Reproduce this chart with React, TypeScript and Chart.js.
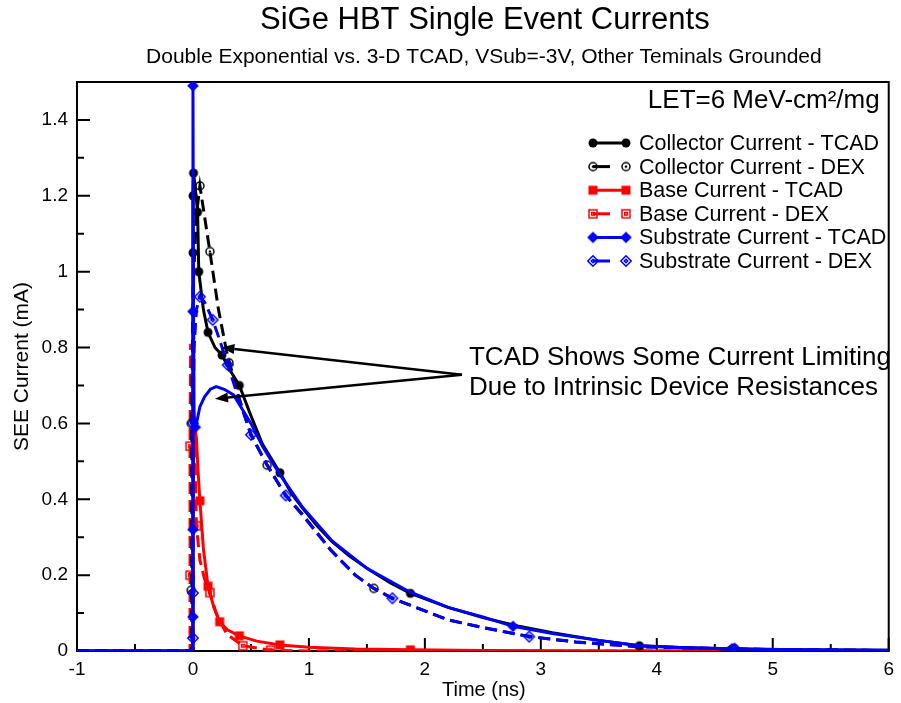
import React, { useEffect, useRef } from "react";
import { Chart, registerables } from "chart.js";

Chart.register(...registerables);

type Pt = [number, number];

const FONT = '"Liberation Sans", Arial, Helvetica, sans-serif';

const chartTitle = "SiGe HBT Single Event Currents";
const chartSubtitle = "Double Exponential vs. 3-D TCAD, VSub=-3V, Other Teminals Grounded";
const xAxisTitle = "Time (ns)";
const yAxisTitle = "SEE Current (mA)";
const letLabel = "LET=6 MeV-cm²/mg";
const noteLines = ["TCAD Shows Some Current Limiting", "Due to Intrinsic Device Resistances"];

const xTickValues = [-1, 0, 1, 2, 3, 4, 5, 6];
const yTickValues = [0, 0.2, 0.4, 0.6, 0.8, 1, 1.2, 1.4];

const seriesLabels = [
  "Collector Current - TCAD",
  "Collector Current - DEX",
  "Base Current - TCAD",
  "Base Current - DEX",
  "Substrate Current - TCAD",
  "Substrate Current - DEX",
];

// ---- Collector current ----
const collectorTcadCurve: Pt[] = [
  [-1, 0], [0, 0], [0, 0.6], [0, 1.05], [0, 1.2], [0.005, 1.26], [0.02, 1.22], [0.04, 1.157],
  [0.05, 1.0], [0.09, 0.9], [0.13, 0.84], [0.19, 0.8], [0.25, 0.78], [0.32, 0.74], [0.4, 0.7],
  [0.5, 0.62], [0.6, 0.545], [0.75, 0.47], [0.85, 0.415], [0.95, 0.375], [1.07, 0.33],
  [1.2, 0.288], [1.35, 0.25], [1.52, 0.214], [1.7, 0.18], [1.875, 0.152], [2.2, 0.115],
  [2.5, 0.088], [2.8, 0.066], [3.1, 0.048], [3.5, 0.028], [3.85, 0.014], [4.2, 0.009],
  [4.65, 0.005], [5.2, 0.003], [6, 0.002],
];
const collectorTcadMarks: Pt[] = [
  [0, 1.05], [0, 1.2], [0.005, 1.26], [0.04, 1.157], [0.05, 1.0], [0.13, 0.84], [0.25, 0.78],
  [0.4, 0.7], [0.75, 0.47], [1.875, 0.152], [3.85, 0.014], [4.65, 0.005],
];
const collectorDexCurve: Pt[] = [
  [-1, 0], [-0.01, 0], [-0.01, 0.16], [-0.01, 0.6], [0.0, 0.95], [0.03, 1.15], [0.06, 1.226],
  [0.146, 1.053], [0.22, 0.9], [0.29, 0.79], [0.35, 0.72], [0.4, 0.665], [0.5, 0.57],
  [0.64, 0.49], [0.8, 0.41], [0.94, 0.362], [1.19, 0.266], [1.4, 0.2], [1.56, 0.165],
  [1.72, 0.139], [2.2, 0.082], [2.5, 0.062], [2.9, 0.038], [3.3, 0.024], [3.83, 0.012],
  [4.67, 0.005], [6, 0.001],
];
const collectorDexMarks: Pt[] = [
  [-0.015, 0.16], [-0.015, 0.6], [0.06, 1.226], [0.146, 1.053], [0.31, 0.76], [0.64, 0.49],
  [1.56, 0.165], [4.67, 0.006],
];

// ---- Base current ----
const baseTcadCurve: Pt[] = [
  [-1, 0], [0, 0], [0, 0.3], [0.01, 0.62], [0.03, 0.56], [0.045, 0.47], [0.06, 0.396],
  [0.09, 0.27], [0.13, 0.171], [0.18, 0.115], [0.23, 0.077], [0.3, 0.055], [0.4, 0.04],
  [0.55, 0.026], [0.75, 0.016], [1.0, 0.01], [1.4, 0.005], [1.875, 0.003], [2.5, 0.001],
  [3.85, 0], [6, 0],
];
const baseTcadMarks: Pt[] = [
  [0.06, 0.396], [0.13, 0.171], [0.23, 0.077], [0.4, 0.04], [0.75, 0.016], [1.875, 0.003],
  [3.85, 0],
];
const baseDexCurve: Pt[] = [
  [-1, 0], [-0.025, 0], [-0.025, 0.2], [-0.025, 0.54], [-0.02, 0.81], [0.012, 0.6],
  [0.03, 0.33], [0.06, 0.24], [0.1, 0.19], [0.146, 0.154], [0.2, 0.1], [0.29, 0.045],
  [0.43, 0.014], [0.67, 0.002], [1, 0], [6, 0],
];
const baseDexMarks: Pt[] = [
  [-0.025, 0.2], [-0.025, 0.54], [0.03, 0.33], [0.146, 0.154], [0.43, 0.014], [0.67, 0.002],
  [4.65, 0],
];

// ---- Substrate current ----
const substrateTcadCurve: Pt[] = [
  [-1, 0], [0, 0], [0, 1.49], [0.005, 0.9], [0.01, 0.6], [0.03, 0.6], [0.06, 0.644],
  [0.1, 0.67], [0.15, 0.69], [0.2, 0.697], [0.27, 0.69], [0.35, 0.675], [0.42, 0.64],
  [0.5, 0.6], [0.6, 0.54], [0.75, 0.465], [0.95, 0.377], [1.2, 0.29], [1.5, 0.218],
  [1.875, 0.155], [2.2, 0.115], [2.5, 0.09], [2.76, 0.065], [3.1, 0.046], [3.5, 0.028],
  [3.85, 0.014], [4.2, 0.009], [4.65, 0.006], [5.2, 0.003], [6, 0.002],
];
const substrateTcadMarks: Pt[] = [
  [0, 1.49], [0, 0.895], [0, 0.32], [0, 0.09], [0.02, 0.59], [2.76, 0.065], [4.65, 0.006],
];
const substrateDexCurve: Pt[] = [
  [-1, 0], [0, 0], [0, 0.03], [0, 0.3], [0, 0.6], [0.01, 0.8], [0.03, 0.9], [0.06, 0.934],
  [0.1, 0.92], [0.17, 0.873], [0.23, 0.82], [0.3, 0.754], [0.4, 0.66], [0.5, 0.57],
  [0.64, 0.49], [0.8, 0.41], [0.94, 0.36], [1.19, 0.265], [1.4, 0.2], [1.56, 0.165],
  [1.72, 0.139], [2.2, 0.082], [2.5, 0.062], [2.9, 0.038], [3.3, 0.024], [3.83, 0.011],
  [4.67, 0.005], [6, 0.001],
];
const substrateDexMarks: Pt[] = [
  [0, 0.034], [0, 0.153], [0, 0.6], [0.06, 0.934], [0.17, 0.873], [0.3, 0.754], [0.5, 0.57],
  [0.8, 0.41], [1.72, 0.139], [2.9, 0.038], [4.67, 0.006],
];

// annotation anchor (data coordinates)
const noteAnchor: Pt = [2.32, 0.728];
const noteTips: Pt[] = [[0.245, 0.8], [0.19, 0.665]];

type Shape = "circle" | "square" | "diamond";

function makeSymbol(shape: Shape, color: string, open: boolean): HTMLCanvasElement {
  const c = document.createElement("canvas");
  c.width = 16;
  c.height = 16;
  const g = c.getContext("2d")!;
  g.translate(8, 8);
  g.fillStyle = color;
  g.strokeStyle = color;
  g.lineWidth = 1.5;
  const path = (s: number) => {
    g.beginPath();
    if (shape === "circle") g.arc(0, 0, s, 0, Math.PI * 2);
    else if (shape === "square") g.rect(-s, -s, 2 * s, 2 * s);
    else {
      g.moveTo(0, -s * 1.3);
      g.lineTo(s * 1.3, 0);
      g.lineTo(0, s * 1.3);
      g.lineTo(-s * 1.3, 0);
      g.closePath();
    }
  };
  if (!open) {
    path(4.5);
    g.fill();
  } else {
    path(4);
    g.stroke();
    path(1.3);
    if (shape === "circle") g.fill();
    else g.stroke();
  }
  return c;
}

export default function App() {
  const ref = useRef<HTMLCanvasElement | null>(null);

  useEffect(() => {
    if (!ref.current) return;

    const series = [
      { label: seriesLabels[4], curve: substrateTcadCurve, marks: substrateTcadMarks, color: "#0000ff", dashed: false, shape: "diamond" as Shape },
      { label: seriesLabels[5], curve: substrateDexCurve, marks: substrateDexMarks, color: "#0000ff", dashed: true, shape: "diamond" as Shape },
      { label: seriesLabels[0], curve: collectorTcadCurve, marks: collectorTcadMarks, color: "#000000", dashed: false, shape: "circle" as Shape },
      { label: seriesLabels[1], curve: collectorDexCurve, marks: collectorDexMarks, color: "#000000", dashed: true, shape: "circle" as Shape },
      { label: seriesLabels[2], curve: baseTcadCurve, marks: baseTcadMarks, color: "#ff0000", dashed: false, shape: "square" as Shape },
      { label: seriesLabels[3], curve: baseDexCurve, marks: baseDexMarks, color: "#ff0000", dashed: true, shape: "square" as Shape },
    ].map((s) => ({ ...s, symbol: makeSymbol(s.shape, s.color, s.dashed) }));

    const datasets: any[] = [];
    series.forEach((s, i) => {
      datasets.push({
        label: s.label + " marks",
        data: s.marks.map(([x, y]) => ({ x, y })),
        showLine: false,
        pointStyle: s.symbol,
        pointRadius: 5,
        order: i * 2,
      });
      datasets.push({
        label: s.label,
        data: s.curve.map(([x, y]) => ({ x, y })),
        borderColor: s.color,
        borderWidth: 3,
        borderDash: s.dashed ? [12, 6] : [],
        pointRadius: 0,
        fill: false,
        tension: 0,
        order: i * 2 + 1,
      });
    });

    const legendOrder = [2, 3, 4, 5, 0, 1];

    const decor = {
      id: "decor",
      beforeDatasetsDraw(chart: any) {
        const { ctx, chartArea: a, scales } = chart;
        const xs = scales.x;
        const ys = scales.y;
        ctx.save();
        ctx.strokeStyle = "#000";
        ctx.lineWidth = 2;
        ctx.strokeRect(a.left, a.top, a.right - a.left, a.bottom - a.top);
        ctx.beginPath();
        for (let i = 0; i < xTickValues.length; i++) {
          const v = xTickValues[i];
          const px = xs.getPixelForValue(v);
          ctx.moveTo(px, a.bottom);
          ctx.lineTo(px, a.bottom - 13);
          if (i < xTickValues.length - 1) {
            const mx = xs.getPixelForValue((v + xTickValues[i + 1]) / 2);
            ctx.moveTo(mx, a.bottom);
            ctx.lineTo(mx, a.bottom - 7);
          }
        }
        for (let i = 0; i < yTickValues.length; i++) {
          const v = yTickValues[i];
          const py = ys.getPixelForValue(v);
          ctx.moveTo(a.left, py);
          ctx.lineTo(a.left + 13, py);
          if (i < yTickValues.length - 1) {
            const my = ys.getPixelForValue((v + yTickValues[i + 1]) / 2);
            ctx.moveTo(a.left, my);
            ctx.lineTo(a.left + 7, my);
          }
        }
        ctx.stroke();
        ctx.restore();
      },
      afterDraw(chart: any) {
        const { ctx, chartArea: a, scales } = chart;
        const xs = scales.x;
        const ys = scales.y;
        const cx = (a.left + a.right) / 2;
        ctx.save();
        ctx.fillStyle = "#000";
        ctx.textBaseline = "middle";
        ctx.textAlign = "center";
        ctx.font = `31px ${FONT}`;
        ctx.fillText(chartTitle, cx + 2, 20);
        ctx.font = `21px ${FONT}`;
        ctx.fillText(chartSubtitle, cx + 1, 57);
        ctx.font = `20px ${FONT}`;
        ctx.fillText(xAxisTitle, cx + 1, 690);
        ctx.save();
        ctx.translate(22, (a.top + a.bottom) / 2);
        ctx.rotate(-Math.PI / 2);
        ctx.font = `21px ${FONT}`;
        ctx.fillText(yAxisTitle, 0, 0);
        ctx.restore();

        ctx.textAlign = "right";
        ctx.font = `26px ${FONT}`;
        ctx.fillText(letLabel, a.right - 9, 101);

        // legend
        ctx.textAlign = "left";
        ctx.font = `21.5px ${FONT}`;
        legendOrder.forEach((si, row) => {
          const s = series[si];
          const y = 143 + row * 23.6;
          const x0 = a.left + 516;
          const x1 = a.left + 549;
          ctx.strokeStyle = s.color;
          ctx.lineWidth = 3;
          ctx.beginPath();
          ctx.moveTo(x0, y);
          ctx.lineTo(s.dashed ? x0 + 17 : x1, y);
          ctx.stroke();
          ctx.drawImage(s.symbol, x0 - 8, y - 8);
          ctx.drawImage(s.symbol, x1 - 8, y - 8);
          ctx.fillStyle = "#000";
          ctx.fillText(s.label, a.left + 562, y + 1);
        });

        // annotation
        const ax = xs.getPixelForValue(noteAnchor[0]);
        const ay = ys.getPixelForValue(noteAnchor[1]);
        ctx.strokeStyle = "#000";
        ctx.fillStyle = "#000";
        ctx.lineWidth = 2.5;
        noteTips.forEach(([tx, ty]) => {
          const px = xs.getPixelForValue(tx);
          const py = ys.getPixelForValue(ty);
          const ang = Math.atan2(py - ay, px - ax);
          const hl = 13;
          const hw = 5;
          const bx = px - hl * Math.cos(ang);
          const by = py - hl * Math.sin(ang);
          ctx.beginPath();
          ctx.moveTo(ax, ay);
          ctx.lineTo(bx, by);
          ctx.stroke();
          ctx.beginPath();
          ctx.moveTo(px, py);
          ctx.lineTo(bx + hw * Math.sin(ang), by - hw * Math.cos(ang));
          ctx.lineTo(bx - hw * Math.sin(ang), by + hw * Math.cos(ang));
          ctx.closePath();
          ctx.fill();
        });
        ctx.font = `26px ${FONT}`;
        ctx.textAlign = "left";
        ctx.fillText(noteLines[0], ax + 7, ay - 17);
        ctx.fillText(noteLines[1], ax + 7, ay + 13);
        ctx.restore();
      },
    };

    const chart = new Chart(ref.current, {
      type: "line",
      data: { datasets },
      options: {
        animation: false,
        responsive: true,
        maintainAspectRatio: false,
        events: [],
        layout: { padding: { top: 82, right: 8, left: 0, bottom: 0 } },
        plugins: { legend: { display: false }, title: { display: false }, tooltip: { enabled: false } },
        scales: {
          x: {
            type: "linear",
            min: -1,
            max: 6,
            grid: { display: false, drawTicks: false },
            border: { display: false },
            ticks: {
              font: { family: FONT, size: 19 },
              color: "#000",
              padding: 7,
              maxRotation: 0,
              autoSkip: false,
              callback: (v: any) => String(v),
            },
            afterBuildTicks: (s: any) => {
              s.ticks = xTickValues.map((v) => ({ value: v }));
            },
            afterFit: (s: any) => {
              s.height = 52;
            },
          },
          y: {
            type: "linear",
            min: 0,
            max: 1.5,
            grid: { display: false, drawTicks: false },
            border: { display: false },
            ticks: {
              font: { family: FONT, size: 19 },
              color: "#000",
              padding: 9,
              autoSkip: false,
              callback: (v: any) => String(Number(Number(v).toFixed(1))),
            },
            afterBuildTicks: (s: any) => {
              s.ticks = yTickValues.map((v) => ({ value: v }));
            },
            afterFit: (s: any) => {
              s.width = 77;
            },
          },
        },
      },
      plugins: [decor],
    } as any);

    return () => chart.destroy();
  }, []);

  return (
    <div style={{ position: "fixed", left: 0, top: 0, width: 901, height: 703, background: "#fff" }}>
      <canvas ref={ref} />
    </div>
  );
}
